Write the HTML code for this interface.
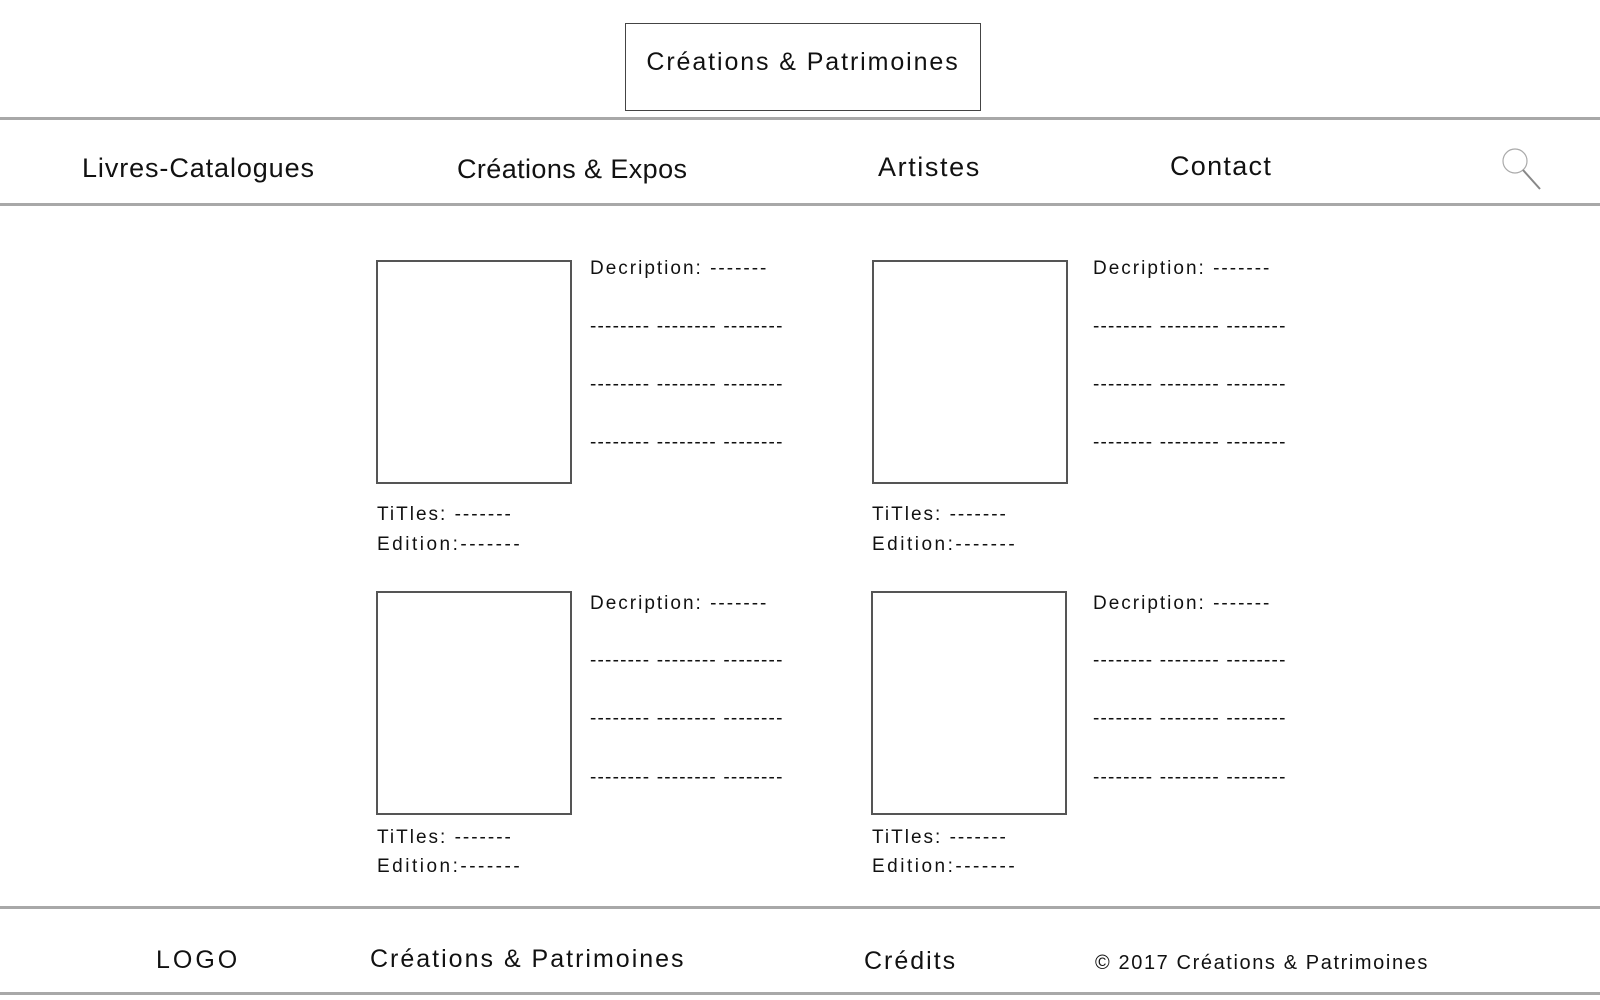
<!DOCTYPE html>
<html><head><meta charset="utf-8"><style>
body{margin:0;width:1600px;height:1000px;background:#fff;position:relative;overflow:hidden;font-family:"Comic Sans MS","Liberation Sans",sans-serif;color:#111}
.a{position:absolute;white-space:nowrap;line-height:1}
.hl{position:absolute;left:0;width:1600px;height:3px;background:#a8a8a8}
.box{position:absolute;border:2px solid #555;box-sizing:border-box;width:196px;height:224px}
.nav{font-size:27px}
.t{font-size:19px}
.ds{letter-spacing:2px}
.dd{letter-spacing:1.2px}
.tt{letter-spacing:2px}
.ed{letter-spacing:2.5px}
</style></head><body>
<div class="a" style="left:625px;top:23px;width:356px;height:88px;border:1px solid #444;box-sizing:border-box"></div>
<div class="a" style="left:625px;top:50px;width:356px;text-align:center;font-size:25px;letter-spacing:1.9px">Créations &amp; Patrimoines</div>
<div class="hl" style="top:117px"></div>
<div class="hl" style="top:203px"></div>
<div class="a nav" style="left:82px;top:155px;letter-spacing:0.9px">Livres-Catalogues</div>
<div class="a nav" style="left:457px;top:156px;letter-spacing:0.4px">Créations &amp; Expos</div>
<div class="a nav" style="left:878px;top:154px;letter-spacing:1.6px">Artistes</div>
<div class="a nav" style="left:1170px;top:153px;letter-spacing:1.3px">Contact</div>
<svg class="a" style="left:1495px;top:145px" width="50" height="50"><circle cx="20" cy="16" r="12" fill="none" stroke="#aaa" stroke-width="1.2"/><line x1="28" y1="25" x2="45" y2="44" stroke="#888" stroke-width="2"/></svg>

<div class="box" style="left:376px;top:260px"></div>
<div class="box" style="left:872px;top:260px"></div>
<div class="box" style="left:376px;top:591px"></div>
<div class="box" style="left:871px;top:591px"></div>

<div class="a t ds" style="left:590px;top:259px">Decription: -------</div>
<div class="a t dd" style="left:590px;top:317px">-------- -------- --------</div>
<div class="a t dd" style="left:590px;top:375px">-------- -------- --------</div>
<div class="a t dd" style="left:590px;top:433px">-------- -------- --------</div>
<div class="a t ds" style="left:1093px;top:259px">Decription: -------</div>
<div class="a t dd" style="left:1093px;top:317px">-------- -------- --------</div>
<div class="a t dd" style="left:1093px;top:375px">-------- -------- --------</div>
<div class="a t dd" style="left:1093px;top:433px">-------- -------- --------</div>
<div class="a t tt" style="left:377px;top:505px">TiTles: -------</div>
<div class="a t ed" style="left:377px;top:535px">Edition:-------</div>
<div class="a t tt" style="left:872px;top:505px">TiTles: -------</div>
<div class="a t ed" style="left:872px;top:535px">Edition:-------</div>

<div class="a t ds" style="left:590px;top:594px">Decription: -------</div>
<div class="a t dd" style="left:590px;top:651px">-------- -------- --------</div>
<div class="a t dd" style="left:590px;top:709px">-------- -------- --------</div>
<div class="a t dd" style="left:590px;top:768px">-------- -------- --------</div>
<div class="a t ds" style="left:1093px;top:594px">Decription: -------</div>
<div class="a t dd" style="left:1093px;top:651px">-------- -------- --------</div>
<div class="a t dd" style="left:1093px;top:709px">-------- -------- --------</div>
<div class="a t dd" style="left:1093px;top:768px">-------- -------- --------</div>
<div class="a t tt" style="left:377px;top:828px">TiTles: -------</div>
<div class="a t ed" style="left:377px;top:857px">Edition:-------</div>
<div class="a t tt" style="left:872px;top:828px">TiTles: -------</div>
<div class="a t ed" style="left:872px;top:857px">Edition:-------</div>

<div class="hl" style="top:906px"></div>
<div class="hl" style="top:992px"></div>
<div class="a" style="left:156px;top:948px;font-size:25px;letter-spacing:3px">LOGO</div>
<div class="a" style="left:370px;top:947px;font-size:25px;letter-spacing:2px">Créations &amp; Patrimoines</div>
<div class="a" style="left:864px;top:949px;font-size:25px;letter-spacing:2px">Crédits</div>
<div class="a" style="left:1095px;top:953px;font-size:20px;letter-spacing:1.6px">© 2017 Créations &amp; Patrimoines</div>
</body></html>
